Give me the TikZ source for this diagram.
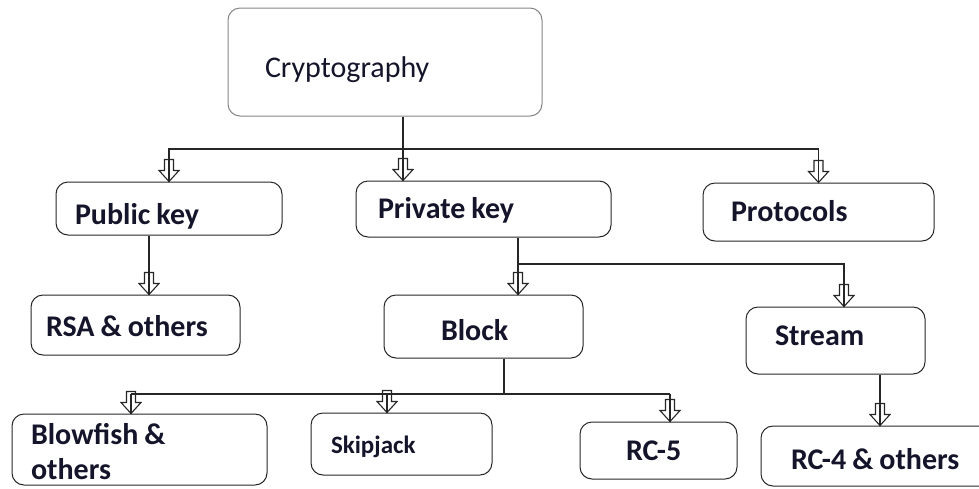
\documentclass[tikz,border=0pt]{standalone}
\usepackage{fontspec}
\setmainfont{Carlito}
\definecolor{ink}{HTML}{14142A}
\definecolor{edge}{HTML}{262626}
\definecolor{soft}{HTML}{858585}
\tikzset{
  box/.style={draw=edge, rounded corners=12pt, line width=1pt, inner ysep=0pt,
    align=left, text=ink, font=\bfseries\fontsize{30}{35}\selectfont,
    execute at begin node={\spaceskip=6pt plus 2pt\relax},
    text height=22pt, text depth=3pt},
  conn/.style={draw=edge, line width=1.2pt},
  tipline/.style={draw=edge, line width=1.1pt},
}
\newcommand{\hollowtip}[1]{%
  \draw[tipline] (#1) -- ++(-10,-11) -- ++(5.5,0) -- ++(0,-11) -- ++(9,0)
    -- ++(0,11) -- ++(5.5,0) -- cycle;}

\begin{document}
\begin{tikzpicture}[x=1pt, y=-1pt]
  \clip (0,0) rectangle (979,488);
  % boxes
  \node[box, draw=soft, font=\fontsize{30}{35}\selectfont, minimum height=108pt,
    text width=240pt, inner xsep=37pt, text height=33pt] (crypto) at (385,62) {Cryptography};
  \node[box, minimum height=53pt, text width=188pt, inner xsep=19pt, text height=35pt] (pub) at (169,208.5) {Public key};
  \node[box, minimum height=56pt, text width=211pt, inner xsep=22pt] (priv) at (483.5,209) {Private key};
  \node[box, minimum height=58pt, text width=175pt, inner xsep=28pt] (prot) at (818.5,212) {Protocols};
  \node[box, minimum height=60pt, text width=179pt, inner xsep=15pt, text height=26pt] (rsa) at (135.5,325) {RSA \& others};
  \node[box, minimum height=63pt, text width=85pt, inner xsep=57pt, text height=31pt] (block) at (483.5,326.5) {Block};
  \node[box, minimum height=67pt, text width=121pt, inner xsep=29pt, text height=12pt] (stream) at (835.5,340.5) {Stream};
  \node[box, minimum height=71pt, text width=217pt, inner xsep=19pt, text height=27pt, text depth=38pt] (blow) at (139.5,449.5) {Blowfish \&\\ others};
  \node[box, font=\bfseries\fontsize{25}{30}\selectfont, minimum height=62pt, text width=141pt,
    inner xsep=20pt, text height=21pt] (skip) at (401.5,444) {Skipjack};
  \node[box, minimum height=57pt, text width=65pt, inner xsep=46pt] (rc5) at (658.5,450.5) {RC-5};
  \node[box, minimum height=60pt, text width=179pt, inner xsep=30pt, text height=30pt] (rc4) at (880.5,456) {RC-4 \& others};
  % junctions
  \coordinate (j1) at (403,149);
  \coordinate (j2) at (149,265);
  \coordinate (j3) at (518,264);
  \coordinate (j4) at (844,264);
  \coordinate (j5) at (504,394);
  \coordinate (k1) at (131,394);
  \coordinate (k2) at (387,394);
  \coordinate (k3) at (670,394);
  \coordinate (j6) at (880,400);
  % connectors
  \draw[conn] (crypto.south -| j1) -- (priv.north -| j1);
  \draw[conn] (pub.north) |- (j1) -| (prot.north);
  \draw[conn] (pub.south -| j2) -- (rsa.north -| j2);
  \draw[conn] (priv.south -| j3) -- (block.north -| j3);
  \draw[conn] (j3) -- (j4) -- (stream.north -| j4);
  \draw[conn] (block.south -| j5) -- (j5);
  \draw[conn] (k1) -- (k3);
  \draw[conn] (k1) -- (blow.north -| k1);
  \draw[conn] (k2) -- (skip.north -| k2);
  \draw[conn] (k3) -- (rc5.north -| k3);
  \draw[conn] (stream.south -| j6) -- (rc4.north -| j6);
  % hollow tips
  \hollowtip{pub.north}
  \hollowtip{priv.north -| j1}
  \hollowtip{prot.north}
  \hollowtip{rsa.north -| j2}
  \hollowtip{block.north -| j3}
  \hollowtip{stream.north -| j4}
  \hollowtip{blow.north -| k1}
  \hollowtip{skip.north -| k2}
  \hollowtip{rc5.north -| k3}
  \hollowtip{rc4.north -| j6}
\end{tikzpicture}
\end{document}
